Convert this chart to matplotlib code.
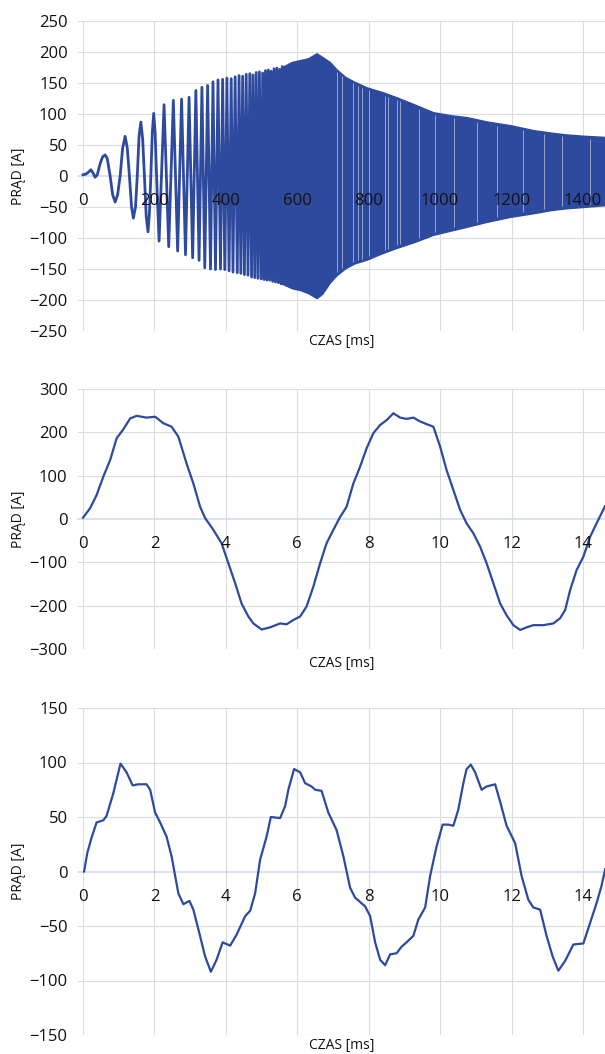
import matplotlib
matplotlib.use("Agg")
import matplotlib.pyplot as plt
import numpy as np

plt.rcParams['font.family'] = ['Open Sans', 'DejaVu Sans']

# ---------------- data: top chart (start-up current, 0-1460 ms) -------------
# resolvable early oscillation (time ms, current A)
top_early_t = [0, 8, 15, 22, 28, 34, 40, 48, 55, 62, 68, 76, 83, 90, 97, 104,
               111, 118, 124, 130, 136, 141, 147, 152, 157, 162, 167, 172, 177,
               182, 186, 190, 194, 198, 202, 206]
top_early_i = [2, 3, 6, 10, 5, -2, 2, 20, 31, 34, 28, 0, -30, -42, -30, 0,
               45, 64, 45, 0, -50, -68, -50, 0, 65, 87, 60, 0, -65,
               -90, -60, 0, 70, 101, 70, 0]
# individual peaks and troughs in the tightening part
top_peak_t = [227, 253, 276, 297, 316, 333, 349, 364, 378, 391, 403, 415, 426,
              437, 447, 457, 467, 476, 485, 494, 503, 511, 519, 527, 535, 543,
              551, 558]
top_peak_i = [115, 122, 124, 127, 138, 143, 146, 152, 155, 156, 158, 157, 160,
              162, 161, 164, 165, 163, 167, 168, 166, 170, 171, 169, 173, 174,
              172, 176]
top_trough_t = [213, 240, 265, 287, 307, 325, 341, 357, 371, 385, 397, 409, 420,
                432, 442, 452, 462, 472, 481, 490, 499, 507, 515, 523, 531, 539,
                547, 555]
top_trough_i = [-105, -114, -121, -127, -132, -136, -148, -150, -151, -150, -151,
                -153, -155, -156, -157, -159, -160, -163, -164, -165, -166, -167,
                -168, -168, -170, -171, -172, -174]
# dense part: envelope of the oscillation
top_up_t = [558, 585, 608, 631, 654, 670, 691, 710, 734, 760, 794, 840, 878,
            930, 980, 1030, 1074, 1130, 1196, 1261, 1310, 1354, 1400, 1462]
top_up_i = [176, 184, 187, 190, 198, 192, 184, 172, 160, 152, 143, 135, 127,
            115, 103, 98, 95, 88, 82, 74, 70, 67, 65, 63]
top_lo_i = [-174, -181, -184, -189, -197, -190, -172, -160, -149, -141, -135,
            -124, -116, -106, -95, -88, -82, -74, -66, -60, -55, -52, -50, -47]
# visible light streaks inside the dense band (ms)
top_gap_t = [711, 725, 756, 770, 781, 800, 846, 854, 879, 888, 940, 986,
             1040, 1103, 1160, 1232, 1290, 1341, 1420]

# ---------------- data: middle chart --------------------------------------
mid_t = [0, 0.2, 0.38, 0.57, 0.76, 0.94, 1.13, 1.32, 1.5, 1.78, 2.02, 2.25,
         2.48, 2.67, 2.9, 3.09, 3.28, 3.42, 3.65, 3.88, 4.07, 4.26, 4.44, 4.63,
         4.77, 5.0, 5.24, 5.52, 5.7, 5.89, 6.08, 6.26, 6.45, 6.64, 6.82, 7.01,
         7.2, 7.38, 7.57, 7.76, 7.94, 8.13, 8.32, 8.5, 8.69, 8.88, 9.06, 9.25,
         9.44, 9.62, 9.81, 10.0, 10.18, 10.37, 10.56, 10.74, 10.93, 11.12,
         11.3, 11.49, 11.68, 11.86, 12.05, 12.24, 12.42, 12.61, 12.89, 13.17,
         13.36, 13.5, 13.64, 13.82, 14.01, 14.2, 14.38, 14.62]
mid_i = [3, 25, 55, 98, 136, 186, 207, 232, 238, 234, 236, 221,
         213, 190, 128, 82, 28, 2, -25, -56, -102, -148, -195, -225,
         -241, -255, -250, -241, -243, -233, -225, -202, -156, -102, -56, -25,
         5, 28, 82, 121, 163, 198, 217, 228, 244, 234, 231, 234,
         225, 219, 213, 167, 113, 67, 21, -10, -33, -64,
         -102, -148, -195, -222, -245, -256, -250, -245, -245, -241,
         -229, -210, -164, -118, -87, -41, -10, 30]

# ---------------- data: bottom chart --------------------------------------
bot_t = [0.03, 0.12, 0.24, 0.38, 0.57, 0.66, 0.85, 1.05, 1.22, 1.39, 1.55,
         1.78, 1.88, 2.02, 2.16, 2.34, 2.48, 2.58, 2.67, 2.81, 2.98, 3.09,
         3.23, 3.42, 3.58, 3.74, 3.91, 4.12, 4.3, 4.54, 4.68, 4.82, 4.96,
         5.14, 5.26, 5.52, 5.66, 5.75, 5.91, 6.08, 6.22, 6.4, 6.5, 6.68,
         6.87, 7.1, 7.29, 7.48, 7.62, 7.9, 8.04, 8.18, 8.32, 8.46, 8.6, 8.78,
         8.92, 9.06, 9.25, 9.39, 9.58, 9.72, 9.9, 10.07, 10.23, 10.37, 10.51,
         10.65, 10.74, 10.86, 10.98, 11.16, 11.3, 11.54, 11.68, 11.86, 12.1,
         12.28, 12.47, 12.61, 12.8, 12.98, 13.15, 13.31, 13.5, 13.73, 14.01,
         14.2, 14.38, 14.52, 14.62]
bot_i = [0, 17, 31, 45, 47, 51, 72, 99, 91, 79, 80,
         80, 75, 54, 45, 32, 14, -4, -20, -30, -27, -35,
         -53, -78, -92, -81, -65, -68, -58, -41, -36, -20, 11,
         32, 50, 49, 60, 75, 94, 91, 81, 78, 75, 74,
         54, 38, 14, -15, -24, -32, -41, -65, -81, -86, -76, -75,
         -69, -65, -59, -44, -33, -4, 23, 43, 43, 42, 57,
         81, 94, 98, 91, 75, 78, 80, 64, 42, 26,
         -4, -26, -33, -35, -59, -78, -91, -82, -67, -66,
         -47, -29, -13, 2]

top_xticks = [0, 200, 400, 600, 800, 1000, 1200, 1400]
top_yticks = [-250, -200, -150, -100, -50, 0, 50, 100, 150, 200, 250]
mid_yticks = [-300, -200, -100, 0, 100, 200, 300]
bot_yticks = [-150, -100, -50, 0, 50, 100, 150]
ms_xticks = [0, 2, 4, 6, 8, 10, 12, 14]

LINE = '#2E4A9E'
GRID = '#DCDCDC'
ZERO = '#D3DBEC'

W, H = 605, 1054
fig = plt.figure(figsize=(W / 100, H / 100), dpi=100)


def make_axes(top_px, bot_px, xlim, ylim, xticks, yticks):
    left_px = 78
    ax = fig.add_axes([left_px / W, 1 - bot_px / H, (W - left_px) / W,
                       (bot_px - top_px) / H])
    ax.set_xlim(*xlim)
    ax.set_ylim(*ylim)
    for s in ['left', 'right', 'top']:
        ax.spines[s].set_visible(False)
    ax.spines['bottom'].set_position(('data', 0))
    ax.spines['bottom'].set_color(ZERO)
    ax.spines['bottom'].set_linewidth(1.2)
    ax.spines['bottom'].set_zorder(1)
    ax.set_xticks(xticks)
    ax.set_yticks(yticks)
    for x in xticks:
        ax.axvline(x, color=GRID, lw=0.8, zorder=0)
    for y in yticks:
        if y != 0:
            ax.axhline(y, color=GRID, lw=0.8, zorder=0)
    ax.tick_params(axis='x', length=0, pad=12.5, labelsize=12, colors='#111111')
    ax.tick_params(axis='y', length=0, pad=7.5, labelsize=12, colors='#111111')
    ax.xaxis.set_zorder(5)
    ax.yaxis.set_zorder(5)
    cy = 1 - (top_px + bot_px) / 2 / H
    fig.text(18 / W, cy, 'PRĄD [A]', rotation=90, ha='center', va='center',
             fontsize=10, color='#111111')
    return ax


def xlabel(ax, y_px):
    fig.text((78 + W) / 2 / W, 1 - y_px / H, 'CZAS [ms]', ha='center',
             va='center', fontsize=10, color='#111111')


# ---- top chart ----
ax1 = make_axes(21, 331, (-14, 1461.7), (-250, 250), top_xticks, top_yticks)
pk = sorted(list(zip(top_peak_t, top_peak_i)) + list(zip(top_trough_t, top_trough_i)))
tt = top_early_t + [p[0] for p in pk]
ii = top_early_i + [p[1] for p in pk]
ax1.plot(tt, ii, color=LINE, lw=2.0, zorder=2, solid_joinstyle='round')
ax1.fill_between(top_up_t, top_lo_i, top_up_i, color=LINE, lw=1.0,
                 edgecolor=LINE, zorder=2)
g_up = np.interp(top_gap_t, top_up_t, top_up_i) - 4
g_lo = np.interp(top_gap_t, top_up_t, top_lo_i) + 4
ax1.vlines(top_gap_t, g_lo, g_up, color='white', lw=0.7, alpha=0.5, zorder=2.2)
xlabel(ax1, 342)

# ---- middle chart ----
ax2 = make_axes(389, 649, (-0.14, 14.616), (-300, 300), ms_xticks, mid_yticks)
ax2.plot(mid_t, mid_i, color=LINE, lw=1.6, zorder=2, solid_joinstyle='round')
xlabel(ax2, 663)

# ---- bottom chart ----
ax3 = make_axes(708, 1035, (-0.14, 14.616), (-150, 150), ms_xticks, bot_yticks)
ax3.plot(bot_t, bot_i, color=LINE, lw=1.6, zorder=2, solid_joinstyle='round')
xlabel(ax3, 1045)

fig.savefig('out.png', dpi=100)
